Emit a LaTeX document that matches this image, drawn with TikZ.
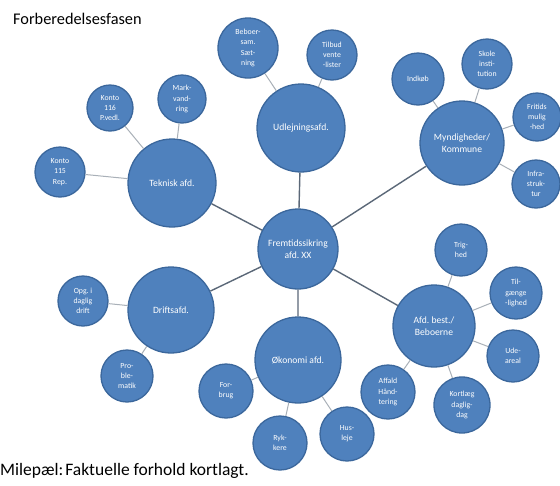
\documentclass[tikz,border=0pt]{standalone}
\usepackage{fontspec}
\setmainfont{Carlito}
\frenchspacing
\definecolor{bubble}{HTML}{4F81BD}
\definecolor{bubbleline}{HTML}{3B679C}
\definecolor{mainlink}{HTML}{5B6878}
\definecolor{leaflink}{HTML}{A9B0B8}
\tikzset{
  hub/.style={circle, fill=bubble, draw=bubbleline, line width=1.3pt, text=white, align=center, inner sep=0pt, font=\fontsize{9.6}{11.5}\selectfont},
  leaf/.style={circle, fill=bubble, draw=bubbleline, line width=1.3pt, text=white, align=center, inner sep=0pt, font=\fontsize{7.8}{10.2}\selectfont},
  mainedge/.style={draw=mainlink, line width=1.4pt},
  leafedge/.style={draw=leaflink, line width=1pt},
}
\begin{document}
\begin{tikzpicture}[x=1pt,y=-1pt]
\useasboundingbox[fill=white] (0,0) rectangle (560,485);
% hubs
\node[hub, minimum size=80pt] (C) at (298,249) {Fremtidssikring\\afd. XX};
\node[hub, minimum size=88pt] (T) at (172,183) {Teknisk afd.};
\node[hub, minimum size=88pt] (U) at (301,128) {Udlejningsafd.};
\node[hub, minimum size=84pt] (M) at (462,143) {Myndigheder/\\Kommune};
\node[hub, minimum size=86pt] (D) at (171,310) {Driftsafd.};
\node[hub, minimum size=86pt] (O) at (298,360) {Økonomi afd.};
\node[hub, minimum size=82pt] (A) at (434,326) {Afd. best./\\Beboerne};
% leaves
\node[leaf, minimum size=50pt] (K115) at (60,172) {Konto\\115\\Rep.};
\node[leaf, minimum size=46pt] (K116) at (110,108) {Konto\\116\\P.vedl.};
\node[leaf, minimum size=48pt] (Mark) at (182,99) {Mark-\\vand-\\ring};
\node[leaf, minimum size=60pt] (Beb) at (248,48) {Beboer-\\sam.\\Sæt-\\ning};
\node[leaf, minimum size=50pt] (Tilb) at (332,55) {Tilbud\\vente\\-lister};
\node[leaf, minimum size=52pt] (Indk) at (418,79) {Indkøb};
\node[leaf, minimum size=50pt] (Skole) at (487,64) {Skole\\insti-\\tution};
\node[leaf, minimum size=48pt] (Frit) at (537,117) {Fritids\\mulig\\-hed};
\node[leaf, minimum size=48pt] (Infra) at (536,184) {Infra-\\struk-\\tur};
\node[leaf, minimum size=50pt] (Opg) at (83,301) {Opg. i\\daglig\\drift};
\node[leaf, minimum size=52pt] (Pro) at (127,376) {Pro-\\ble-\\matik};
\node[leaf, minimum size=54pt] (Forb) at (226,391) {For-\\brug};
\node[leaf, minimum size=54pt] (Ryk) at (280,443) {Ryk-\\kere};
\node[leaf, minimum size=54pt] (Hus) at (347,434) {Hus-\\leje};
\node[leaf, minimum size=52pt] (Trig) at (461,250) {Trig-\\hed};
\node[leaf, minimum size=52pt] (Tilg) at (516,293) {Til-\\gænge\\-lighed};
\node[leaf, minimum size=52pt] (Ude) at (513,356) {Ude-\\areal};
\node[leaf, minimum size=56pt] (Kort) at (462,405) {Kortlæg\\daglig-\\dag};
\node[leaf, minimum size=54pt] (Aff) at (388,392) {Affald\\Hånd-\\tering};
% connectors
\path[mainedge] (C) -- (T) (C) -- (U) (C) -- (M) (C) -- (D) (C) -- (O) (C) -- (A);
\path[leafedge] (T) -- (K115) (T) -- (K116) (T) -- (Mark)
  (U) -- (Beb) (U) -- (Tilb)
  (M) -- (Indk) (M) -- (Skole) (M) -- (Frit) (M) -- (Infra)
  (D) -- (Opg) (D) -- (Pro)
  (O) -- (Forb) (O) -- (Ryk) (O) -- (Hus)
  (A) -- (Trig) (A) -- (Tilg) (A) -- (Ude) (A) -- (Kort) (A) -- (Aff);
% texts
\node[anchor=west, inner sep=0pt, font=\fontsize{16.3}{18}\selectfont] (title) at (13,19) {Forberedelsesfasen};
\node[anchor=west, inner sep=0pt, font=\fontsize{17.5}{19}\selectfont] (mile) at (0,471) {Milepæl:\hspace{0.12em}Faktuelle forhold kortlagt.};
\end{tikzpicture}
\end{document}
